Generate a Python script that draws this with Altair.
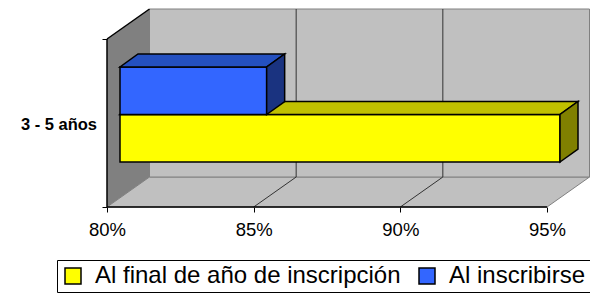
import altair as alt
import pandas as pd

# ---------------- data ----------------
categories = ["3 - 5 años"]
series = ["Al final de año de inscripción", "Al inscribirse"]
values = [95.0, 85.0]          # percent
x_ticks = [80, 85, 90, 95]

# ---------------- styles / geometry ----------------
front_colors = ["#FFFF00", "#3366FF"]
top_colors = ["#C0C000", "#2450C0"]
side_colors = ["#808000", "#1A3380"]

W, H = 483, 198
X_MIN = x_ticks[0]
PX = 440 / (x_ticks[-1] - x_ticks[0])     # px per percent
X_MAX = X_MIN + W / PX
WALL_DX = 42.5 / PX
WALL_DY = 30
AXIS_TOP = H - WALL_DY
BAR_OFF = 13 / PX
BAR_DX = 18 / PX
BAR_DY = 13
BAR_BASE = 45
BAR_H = 47.5
FONT = "Liberation Sans"

xs = alt.Scale(domain=[X_MIN, X_MAX], nice=False, zero=False)
ys = alt.Scale(domain=[0, H], nice=False, zero=False)

AX_X = alt.Axis(
    values=x_ticks, labelExpr="datum.value + '%'", title=None, grid=False,
    domain=False, ticks=True, tickSize=5, tickColor="black", tickWidth=1,
    labelFont=FONT, labelFontSize=18.5, labelColor="black", labelPadding=8,
    labelFlush=False, labelOverlap=False)
AX_Y = alt.Axis(
    values=[0, AXIS_TOP], labels=False, title=None, grid=False, domain=False,
    ticks=True, tickSize=5, tickColor="black", tickWidth=1)


def X(f):
    return alt.X(f, scale=xs, axis=AX_X)


def Y(f):
    return alt.Y(f, scale=ys, axis=AX_Y)


def area(df, fill, stroke=None, sw=1.5):
    kw = dict(fill=fill, opacity=1, fillOpacity=1)
    if stroke:
        kw.update(stroke=stroke, strokeWidth=sw)
    else:
        kw.update(strokeWidth=0)
    return alt.Chart(df).mark_area(**kw).encode(x=X("x:Q"), y=Y("y:Q"), y2="y2:Q")


def rules(df, color, sw=1):
    return alt.Chart(df).mark_rule(color=color, strokeWidth=sw, opacity=1).encode(
        x=X("x:Q"), x2="x2:Q", y=Y("y:Q"), y2="y2:Q")


# walls and floor
floor = area(pd.DataFrame({
    "x": [X_MIN, X_MIN + WALL_DX, x_ticks[-1], x_ticks[-1] + WALL_DX],
    "y": [0, 0, 0, WALL_DY],
    "y2": [0, WALL_DY, WALL_DY, WALL_DY],
}), "#C0C0C0", "#808080", 1)
left_wall = area(pd.DataFrame({
    "x": [X_MIN, X_MIN + WALL_DX],
    "y": [0, WALL_DY],
    "y2": [AXIS_TOP, H],
}), "#808080")
back_wall = alt.Chart(pd.DataFrame({"x": [X_MIN + WALL_DX], "x2": [x_ticks[-1] + WALL_DX],
                                    "y": [WALL_DY], "y2": [H]})).mark_rect(
    fill="#C0C0C0", stroke="#808080", strokeWidth=1, opacity=1).encode(
    x=X("x:Q"), x2="x2:Q", y=Y("y:Q"), y2="y2:Q")

grid_back = rules(pd.DataFrame({
    "x": [t + WALL_DX for t in x_ticks[1:-1]],
    "x2": [t + WALL_DX for t in x_ticks[1:-1]],
    "y": [WALL_DY] * (len(x_ticks) - 2),
    "y2": [H] * (len(x_ticks) - 2),
}), "#333333")
grid_floor = rules(pd.DataFrame({
    "x": x_ticks[1:-1],
    "x2": [t + WALL_DX for t in x_ticks[1:-1]],
    "y": [0] * (len(x_ticks) - 2),
    "y2": [WALL_DY] * (len(x_ticks) - 2),
}), "#333333")
edges = rules(pd.DataFrame({
    "x": [X_MIN, X_MIN, X_MIN],
    "x2": [x_ticks[-1], X_MIN, X_MIN + WALL_DX],
    "y": [0, 0, AXIS_TOP],
    "y2": [0, AXIS_TOP, H],
}), "black", 1.5)

layers = [floor, left_wall, back_wall, grid_back, grid_floor, edges]

legend = alt.Legend(
    title=None, orient="none", legendX=-50, legendY=251, direction="horizontal",
    symbolType="square", symbolSize=256, symbolStrokeColor="black",
    symbolStrokeWidth=1.5, labelFont=FONT, labelFontSize=24,
    labelColor="black", labelOffset=10, columnPadding=14, strokeColor="black",
    padding=4, fillColor="white", symbolOpacity=1, labelLimit=0,
)
color = alt.Color("series:N", scale=alt.Scale(domain=series, range=front_colors),
                  legend=legend)

for i, (s, v) in enumerate(zip(series, values)):
    x0 = X_MIN + BAR_OFF
    x1 = v + BAR_OFF
    yb = BAR_BASE + i * BAR_H
    yt = yb + BAR_H
    front = alt.Chart(pd.DataFrame({"series": [s], "x": [x0], "x2": [x1],
                                    "y": [yb], "y2": [yt]})).mark_rect(
        stroke="black", strokeWidth=1.5, opacity=1).encode(
        x=X("x:Q"), x2="x2:Q", y=Y("y:Q"), y2="y2:Q", color=color)
    top = area(pd.DataFrame({
        "x": [x0, x0 + BAR_DX, x1, x1 + BAR_DX],
        "y": [yt, yt, yt, yt + BAR_DY],
        "y2": [yt, yt + BAR_DY, yt + BAR_DY, yt + BAR_DY],
    }), top_colors[i], "black", 1.5)
    side = area(pd.DataFrame({
        "x": [x1, x1 + BAR_DX],
        "y": [yb, yb + BAR_DY],
        "y2": [yt, yt + BAR_DY],
    }), side_colors[i], "black", 1.5)
    layers += [front, top, side]

cat_label = alt.Chart(pd.DataFrame({"cat": categories, "y": [AXIS_TOP / 2]})).mark_text(
    align="right", baseline="middle", font=FONT, fontSize=16.5, fontWeight="bold",
    color="black", dx=-10, dy=2).encode(
    x=alt.value(0), y=Y("y:Q"), text="cat:N")
layers.append(cat_label)

chart = alt.layer(*layers).properties(
    width=W, height=H,
    autosize=alt.AutoSizeParams(type="none"),
    padding={"left": 99, "top": 1, "right": 0, "bottom": 86},
).configure_view(stroke=None)

chart.save("out.html", embed_options={"renderer": "svg", "actions": False})
